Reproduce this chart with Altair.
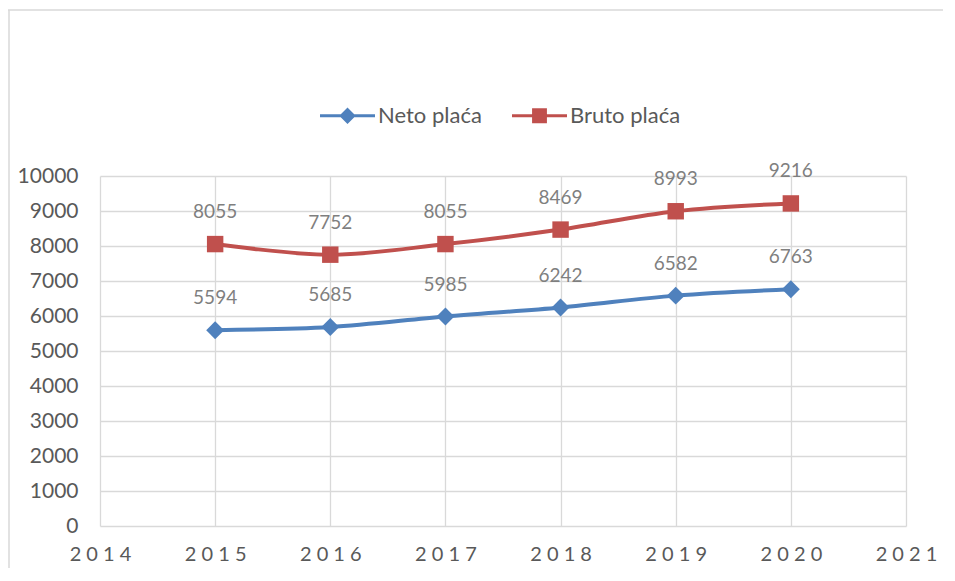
import altair as alt
import pandas as pd

years = [2015, 2016, 2017, 2018, 2019, 2020]
neto = [5594, 5685, 5985, 6242, 6582, 6763]
bruto = [8055, 7752, 8055, 8469, 8993, 9216]
series_names = ["Neto plaća", "Bruto plaća"]
colors = ["#4F81BD", "#C0504D"]

rows = []
for name, vals in zip(series_names, [neto, bruto]):
    for yr, v in zip(years, vals):
        rows.append({"year": yr, "value": v, "series": name})
df = pd.DataFrame(rows)

FONT = "Lato"
GRID = "#d9d9d9"

neto_path = "M-1,-0.058L1,-0.058L1,0.058L-1,0.058Z M0,-0.3L0.3,0L0,0.3L-0.3,0Z"
bruto_path = "M-1,-0.058L1,-0.058L1,0.058L-1,0.058Z M-0.27,-0.27L0.27,-0.27L0.27,0.27L-0.27,0.27Z"

color_scale = alt.Scale(domain=series_names, range=colors)
shape_scale = alt.Scale(domain=series_names, range=[neto_path, bruto_path])

x_enc = alt.X(
    "year:Q",
    scale=alt.Scale(domain=[2014, 2021], nice=False, zero=False),
    axis=alt.Axis(
        values=list(range(2014, 2022)),
        title=None,
        labelExpr="join(split(''+datum.value, ''), ' ')",
        labelFont=FONT,
        labelFontSize=20,
        labelColor="#595959",
        labelPadding=18,
        labelFlush=False,
        labelOverlap=False,
        labelBound=False,
        ticks=False,
        domain=False,
        grid=True,
        gridColor=GRID,
        gridWidth=1.3,
    ),
)
y_enc = alt.Y(
    "value:Q",
    scale=alt.Scale(domain=[0, 10000], nice=False),
    axis=alt.Axis(
        values=list(range(0, 10001, 1000)),
        format="d",
        title=None,
        labelFont=FONT,
        labelFontSize=21,
        labelColor="#595959",
        labelPadding=22,
        ticks=False,
        domain=False,
        grid=True,
        gridColor=GRID,
        gridWidth=1.3,
    ),
)

base = alt.Chart(df)
neto_df = base.transform_filter(alt.datum.series == "Neto plaća")
bruto_df = base.transform_filter(alt.datum.series == "Bruto plaća")

line_neto = neto_df.mark_line(interpolate="catmull-rom", strokeWidth=4, color=colors[0]).encode(x=x_enc, y=y_enc)
line_bruto = bruto_df.mark_line(interpolate="catmull-rom", strokeWidth=4, color=colors[1]).encode(x=x_enc, y=y_enc)

pts_neto = neto_df.mark_point(
    filled=True, shape="diamond", size=320, color=colors[0], opacity=1
).encode(x=x_enc, y=y_enc)

pts_bruto = bruto_df.mark_point(
    filled=True, shape="square", size=270, color=colors[1], opacity=1
).encode(x=x_enc, y=y_enc)

labels = base.mark_text(dy=-32, font=FONT, fontSize=19, color="#7f7f7f", baseline="middle").encode(
    x=x_enc, y=y_enc, text=alt.Text("value:Q", format="d")
)

legend = alt.Legend(
    orient="none",
    legendX=220,
    legendY=-88,
    direction="horizontal",
    title=None,
    symbolSize=3025,
    symbolStrokeWidth=0,
    symbolOpacity=1,
    labelFont=FONT,
    labelFontSize=22,
    labelColor="#595959",
    labelOffset=3,
    columnPadding=30,
)

legend_layer = base.mark_point(filled=True, opacity=0).encode(
    x=x_enc,
    y=y_enc,
    color=alt.Color("series:N", scale=color_scale, legend=legend),
    shape=alt.Shape("series:N", scale=shape_scale, legend=legend),
)

frame_df = pd.DataFrame({"k": [0]})
frame_top = alt.Chart(frame_df).mark_rule(color=GRID, strokeWidth=1.5).encode(
    x=alt.value(-92), x2=alt.value(850), y=alt.value(-166)
)
frame_left = alt.Chart(frame_df).mark_rule(color=GRID, strokeWidth=1.5).encode(
    x=alt.value(-91), y=alt.value(-166), y2=alt.value(400)
)

chart = alt.layer(
    frame_top, frame_left, line_neto, line_bruto, pts_neto, pts_bruto, labels, legend_layer
).properties(
    width=806,
    height=350,
    autosize=alt.AutoSizeParams(type="none"),
    padding={"left": 92, "top": 168, "right": 37, "bottom": 42},
).configure_view(strokeWidth=0)

chart.save("out.html", embed_options={"renderer": "svg", "actions": False})
